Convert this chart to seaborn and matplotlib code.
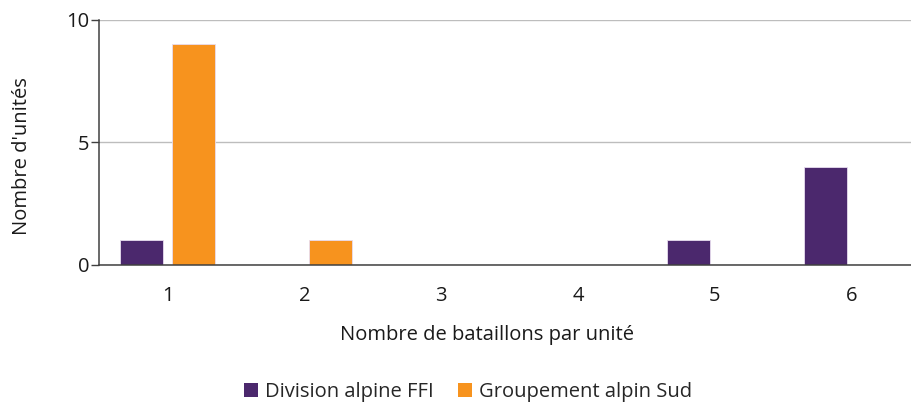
import matplotlib
matplotlib.use("Agg")
import matplotlib.pyplot as plt
from matplotlib.patches import Patch
import seaborn as sns
import pandas as pd

# Data: number of units by battalions per unit
categories = ["1", "2", "3", "4", "5", "6"]
division_ffi = [1, 0, 0, 0, 1, 4]
groupement_sud = [9, 1, 0, 0, 0, 0]
series_names = ["Division alpine FFI", "Groupement alpin Sud"]
colors = ["#4B286D", "#F7931E"]

df = pd.DataFrame({
    "bataillons": categories * 2,
    "unites": division_ffi + groupement_sud,
    "serie": [series_names[0]] * len(categories) + [series_names[1]] * len(categories),
})

sns.set_theme(style="white")
plt.rcParams["font.family"] = ["Open Sans", "DejaVu Sans"]

fig = plt.figure(figsize=(9.11, 4.05), dpi=100)
ax = fig.add_axes([0.109, 0.3457, 0.9009, 0.605])

sns.barplot(data=df, x="bataillons", y="unites", hue="serie",
            order=categories, hue_order=series_names,
            palette=colors, saturation=1, width=0.76, gap=0.17,
            edgecolor="#E8DCEF", linewidth=0.6, legend=False, ax=ax)

ax.set_xlim(-0.5, len(categories) - 0.5)
ax.set_ylim(0, 10)
ax.set_yticks([0, 5, 10])
ax.yaxis.grid(True, color="#BDBDBD", linewidth=1.0)
ax.set_axisbelow(True)

# Category boundaries carry the tick marks; labels sit at centres
ax.set_xticks([i - 0.5 for i in range(len(categories) + 1)], minor=True)
ax.tick_params(axis="x", which="minor", length=6, width=1, color="#404040", direction="out")
ax.tick_params(axis="x", which="major", length=0, labelsize=14.5, pad=15, labelcolor="#1A1A1A")
ax.tick_params(axis="y", length=6, width=1, color="#404040", direction="out",
               labelsize=14.5, pad=1, labelcolor="#1A1A1A", left=True)

for side in ["top", "right"]:
    ax.spines[side].set_visible(False)
for side in ["left", "bottom"]:
    ax.spines[side].set_color("#404040")
    ax.spines[side].set_linewidth(1.1)

ax.set_xlabel("Nombre de bataillons par unité", fontsize=14.5, color="#1A1A1A",
              va="center")
ax.xaxis.set_label_coords(0.473, -0.286)
ax.set_ylabel("Nombre d'unités", fontsize=14.5, color="#1A1A1A", va="center")
ax.yaxis.set_label_coords(-0.094, 0.445)

handles = [Patch(facecolor=c, edgecolor="none") for c in colors]
fig.legend(handles, series_names, loc="center", bbox_to_anchor=(0.514, 0.032),
           ncol=2, frameon=False, fontsize=14.5, handlelength=0.7, handleheight=0.7,
           handletextpad=0.35, columnspacing=1.2)

fig.savefig("out.png", dpi=100)
